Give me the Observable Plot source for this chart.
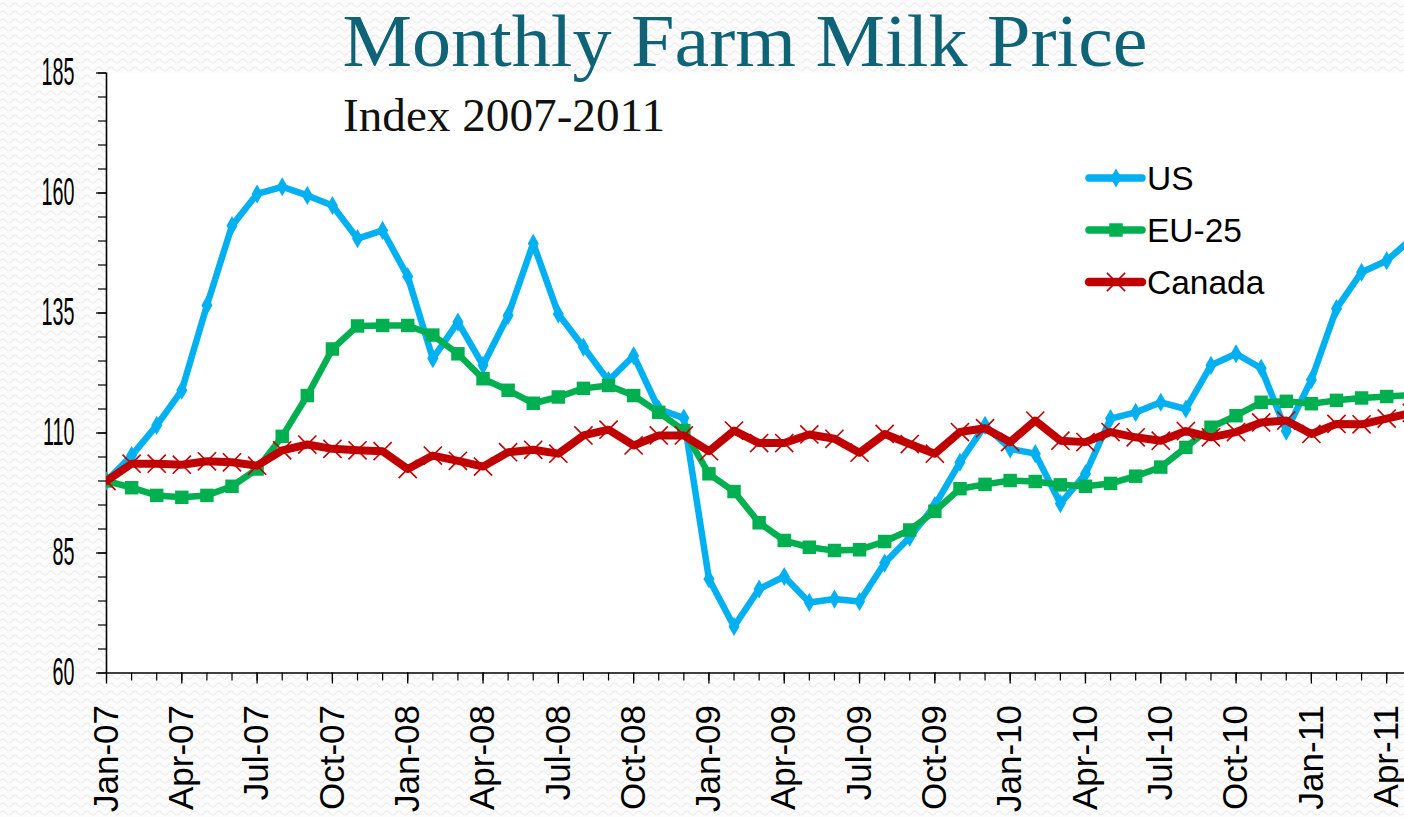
<!DOCTYPE html>
<html>
<head>
<meta charset="utf-8">
<script src="https://cdn.jsdelivr.net/npm/d3@7"></script>
<script src="https://cdn.jsdelivr.net/npm/@observablehq/plot@0.6"></script>
<style>
html, body { margin: 0; padding: 0; width: 1404px; height: 817px; overflow: hidden; }
body {
  background-color: #fcfcfc;
  background-image: url("data:image/svg+xml,%3Csvg xmlns='http://www.w3.org/2000/svg' width='12' height='8'%3E%3Cpath d='M0 5 Q3 1 6 5 T12 5' fill='none' stroke='%23ebebeb' stroke-width='1.2'/%3E%3C/svg%3E");
}
#wrap { position: relative; width: 1404px; height: 817px; }
#chart { position: absolute; left: 0; top: 0; }
#overlay { position: absolute; left: 0; top: 0; pointer-events: none; }
</style>
</head>
<body>
<div id="wrap"><div id="chart"></div><svg id="overlay" width="1404" height="817"></svg></div>
<script>
// ---- data ----
const months = [
  "Jan-07","Feb-07","Mar-07","Apr-07","May-07","Jun-07","Jul-07","Aug-07","Sep-07","Oct-07","Nov-07","Dec-07",
  "Jan-08","Feb-08","Mar-08","Apr-08","May-08","Jun-08","Jul-08","Aug-08","Sep-08","Oct-08","Nov-08","Dec-08",
  "Jan-09","Feb-09","Mar-09","Apr-09","May-09","Jun-09","Jul-09","Aug-09","Sep-09","Oct-09","Nov-09","Dec-09",
  "Jan-10","Feb-10","Mar-10","Apr-10","May-10","Jun-10","Jul-10","Aug-10","Sep-10","Oct-10","Nov-10","Dec-10",
  "Jan-11","Feb-11","Mar-11","Apr-11","May-11"
];
const us = [
  100, 105.3, 111.6, 118.9, 136.6, 153.2, 159.8, 161.3, 159.5, 157.4, 150.5, 152.2,
  142.6, 125.5, 133.1, 124.1, 134.5, 149.5, 134.8, 127.9, 120.9, 126.1, 115.0, 113.1,
  79.6, 69.7, 77.5, 80.1, 74.7, 75.4, 74.9, 82.9, 88.3, 94.9, 103.9, 111.6,
  106.7, 105.7, 95.3, 101.5, 113.0, 114.3, 116.4, 115.0, 124.1, 126.5, 123.5, 110.4,
  121.1, 135.9, 143.5, 145.9, 150.5
];
const eu25 = [
  100, 98.6, 97.0, 96.6, 97.0, 98.9, 102.5, 109.3, 117.8, 127.5, 132.3, 132.4,
  132.4, 130.4, 126.5, 121.3, 118.9, 116.2, 117.5, 119.3, 119.9, 117.8, 114.3, 110.5,
  101.5, 97.8, 91.3, 87.6, 86.2, 85.5, 85.7, 87.4, 89.8, 93.7, 98.4, 99.3,
  100.1, 99.9, 99.2, 98.9, 99.5, 101.0, 102.9, 107.0, 111.2, 113.6, 116.4, 116.6,
  116.1, 116.8, 117.3, 117.6, 117.9
];
const canada = [
  100, 103.6, 103.6, 103.4, 104.1, 103.9, 103.2, 106.4, 107.6, 106.7, 106.4, 106.2,
  102.5, 105.3, 104.2, 103.0, 106.0, 106.5, 105.7, 109.5, 110.7, 107.4, 109.5, 109.5,
  106.2, 110.5, 107.9, 107.9, 109.7, 108.8, 105.9, 109.8, 107.7, 105.7, 110.2, 111.0,
  108.1, 112.6, 108.4, 108.1, 110.2, 109.1, 108.4, 110.4, 109.1, 110.2, 112.2, 112.6,
  109.8, 111.9, 111.8, 113.0, 114.2
];
const seriesNames = ["US", "EU-25", "Canada"];
const seriesColors = ["#00b0f0", "#00b050", "#c00000"];
const yMajorTicks = [60, 85, 110, 135, 160, 185];
const yMinorTicks = d3.range(60, 186, 5);
const xMajorTicks = d3.range(0, 52, 3);
const xMinorTicks = d3.range(0, 52, 1);
const titleText = "Monthly Farm Milk Price";
const subtitleText = "Index 2007-2011";

const idx = months.map((_, i) => i);
const xMax = 51.71;

const lineStyle = {strokeLinejoin: "round", strokeLinecap: "round", clip: true};

const chart = Plot.plot({
  width: 1404,
  height: 817,
  marginLeft: 106,
  marginRight: 0,
  marginTop: 72.5,
  marginBottom: 144.5,
  style: {background: "transparent", overflow: "visible", fontFamily: "'Liberation Sans', Arial, sans-serif", color: "black"},
  x: {domain: [0, xMax], axis: null},
  y: {domain: [60, 185], axis: null},
  marks: [
    Plot.frame({fill: "white", stroke: "none"}),
    Plot.axisY(yMinorTicks, {anchor: "left", tickSize: 8, tickFormat: () => "", label: null, strokeWidth: 1.2}),
    Plot.axisY(yMajorTicks, {anchor: "left", tickSize: 10, tickPadding: 22, fontSize: 38, label: null, strokeWidth: 1.3}),
    Plot.axisX(xMinorTicks, {anchor: "bottom", tickSize: 8, tickFormat: () => "", label: null, strokeWidth: 1.2}),
    Plot.axisX(xMajorTicks, {anchor: "bottom", tickSize: 11, tickPadding: 21, tickRotate: -90, fontSize: 35,
      tickFormat: i => months[i], label: null, strokeWidth: 1.3}),
    Plot.ruleY([60], {stroke: "black", strokeWidth: 1.6}),
    Plot.ruleX([0], {stroke: "black", strokeWidth: 1.6}),
    Plot.line(idx, {x: i => i, y: i => us[i], stroke: seriesColors[0], strokeWidth: 6.5, ...lineStyle}),
    Plot.dot(idx, {x: i => i, y: i => us[i], symbol: "diamond", fill: seriesColors[0], r: 5.8, clip: true}),
    Plot.line(idx, {x: i => i, y: i => eu25[i], stroke: seriesColors[1], strokeWidth: 6.5, ...lineStyle}),
    Plot.dot(idx, {x: i => i, y: i => eu25[i], symbol: "square", fill: seriesColors[1], r: 7.6, clip: true}),
    Plot.line(idx, {x: i => i, y: i => canada[i], stroke: seriesColors[2], strokeWidth: 8, ...lineStyle}),
    Plot.dot(idx, {x: i => i, y: i => canada[i], symbol: "times", stroke: seriesColors[2], strokeWidth: 1.6, r: 8.3, clip: true})
  ]
});
document.getElementById("chart").appendChild(chart);

// enlarge and condense the y tick labels horizontally
d3.select(chart).selectAll('g[aria-label="y-axis tick label"] text').each(function() {
  this.setAttribute("font-size", 38);
  this.style.fontSize = "38px";
  const bb = this.getBBox();
  const rx = bb.x + bb.width;
  const t = this.getAttribute("transform") || "";
  this.setAttribute("transform", `${t} translate(${rx},0) scale(0.52,1) translate(${-rx},0)`);
});

// ---- title, subtitle, legend ----
const ov = d3.select("#overlay");
ov.append("text")
  .attr("x", 745).attr("y", 66)
  .attr("text-anchor", "middle")
  .attr("font-family", "'Liberation Serif', 'DejaVu Serif', serif")
  .attr("font-size", 74)
  .attr("fill", "#0f6377")
  .attr("textLength", 805)
  .attr("lengthAdjust", "spacingAndGlyphs")
  .text(titleText);
ov.append("text")
  .attr("x", 343).attr("y", 131)
  .attr("font-family", "'Liberation Serif', 'DejaVu Serif', serif")
  .attr("font-size", 47)
  .attr("fill", "#111")
  .attr("textLength", 322)
  .attr("lengthAdjust", "spacingAndGlyphs")
  .text(subtitleText);

const legendSymbols = [d3.symbolDiamond, d3.symbolSquare, d3.symbolTimes];
const legendSizes = [Math.PI * 5.8 * 5.8, Math.PI * 7.6 * 7.6, Math.PI * 8.3 * 8.3];
seriesNames.forEach((name, k) => {
  const cy = 178 + 52 * k;
  const g = ov.append("g");
  g.append("line").attr("x1", 1089).attr("x2", 1142).attr("y1", cy).attr("y2", cy)
    .attr("stroke", seriesColors[k]).attr("stroke-width", k === 2 ? 8.5 : 7.5).attr("stroke-linecap", "round");
  const sym = g.append("path")
    .attr("transform", `translate(1116,${cy})`)
    .attr("d", d3.symbol(legendSymbols[k], legendSizes[k])());
  if (k === 2) sym.attr("fill", "none").attr("stroke", seriesColors[k]).attr("stroke-width", 1.6);
  else sym.attr("fill", seriesColors[k]);
  g.append("text").attr("x", 1147).attr("y", cy).attr("dy", "0.36em")
    .attr("font-family", "'Liberation Sans', Arial, sans-serif")
    .attr("font-size", 33.5).attr("fill", "black").text(name);
});
</script>
</body>
</html>
